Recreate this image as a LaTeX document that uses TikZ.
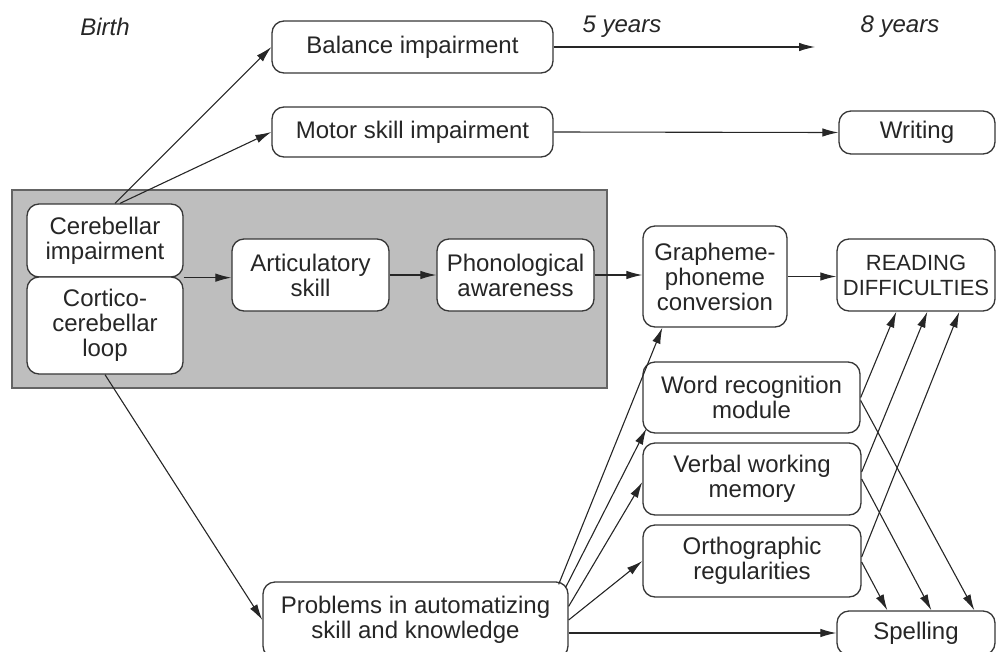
\documentclass[tikz,border=0pt]{standalone}
\usepackage{fontspec}
\setmainfont{Liberation Sans}
\usepackage{xcolor}
\usetikzlibrary{arrows.meta,calc}
\definecolor{boxline}{RGB}{55,55,55}
\definecolor{panelgray}{RGB}{190,190,190}
\definecolor{panelline}{RGB}{100,100,100}
\newcommand{\boxfont}{\fontsize{24}{25}\selectfont}
\tikzset{
	blk/.style={draw=boxline, line width=1.3pt, fill=white, rounded corners=12pt,
			align=center, inner sep=0pt, font=\boxfont, text=black!85},
	agelabel/.style={font=\fontsize{24}{25}\selectfont\itshape, text=black!85},
	link/.style={->, line width=1.1pt, draw=black!85}
}
\begin{document}
\begin{tikzpicture}[x=1pt,y=-1pt,>={Latex[length=16pt,width=8.5pt]}]
			\useasboundingbox (0,0) rectangle (996,651);

			% Time axis labels
			\node[agelabel] (birth) at (105,27) {Birth};
			\node[agelabel] (five) at (622,27) {5 years};
			\node[agelabel] (eight) at (900,27) {8 years};

			% Shaded panel
			\filldraw[fill=panelgray, draw=panelline, line width=1.1pt] (12,190) rectangle (607,388);

			% Boxes
			\node[blk, minimum width=281, minimum height=52] (balance) at (412.5,47) {Balance impairment};
			\node[blk, minimum width=281, minimum height=50] (motor) at (412.5,132) {Motor skill impairment};
			\node[blk, minimum width=156, minimum height=43] (writing) at (917,132.5) {Writing};
			\node[blk, minimum width=156, minimum height=73] (cereb) at (105,240.5) {Cerebellar\\impairment};
			\node[blk, minimum width=156, minimum height=97] (cortico) at (105,325.5) {Cortico-\\cerebellar\\loop};
			\node[blk, minimum width=157, minimum height=72] (artic) at (310.5,275) {Articulatory\\skill};
			\node[blk, minimum width=157, minimum height=72] (phono) at (515.5,275) {Phonological\\awareness};
			\node[blk, minimum width=144, minimum height=101] (graph) at (715,276.5) {Grapheme-\\phoneme\\conversion};
			\node[blk, minimum width=158, minimum height=72, font=\fontsize{22}{25}\selectfont] (reading) at (916,275) {READING\\DIFFICULTIES};
			\node[blk, minimum width=217, minimum height=71] (wordrec) at (751.5,397.5) {Word recognition\\module};
			\node[blk, minimum width=218, minimum height=72] (verbal) at (752,479) {Verbal working\\memory};
			\node[blk, minimum width=218, minimum height=72] (ortho) at (752,561) {Orthographic\\regularities};
			\node[blk, minimum width=305, minimum height=76] (problems) at (415.5,620) {Problems in automatizing\\skill and knowledge};
			\node[blk, minimum width=158, minimum height=44] (spelling) at (916,633) {Spelling};

			\coordinate (balend) at (815,47);

			% Top branch
			\draw[link] ($(cereb.north)+(10,0)$) -- (balance.west);
			\draw[link] ($(cereb.north)+(15,0)$) -- (motor.west);
			\draw[link] (balance.east) -- (balend);
			\draw[link] (motor.east) -- (writing.west);

			% Phonological route
			\draw[link] (cereb.south east) -- (cereb.south east -| artic.west);
			\draw[link] (artic.east) -- (phono.west);
			\draw[link] (phono.east) -- (phono.east -| graph.west);
			\draw[link] (graph.east) -- (graph.east -| reading.west);

			% Automatization route
			\draw[link] (cortico.south) -- (problems.west);
			\draw[link] ($(problems.north east)+(-10,3)$) -- ($(graph.south west)+(20,0)$);
			\draw[link] ($(problems.north east)+(-3,6)$) -- ($(wordrec.south west)+(4,-5)$);
			\draw[link] ($(problems.north east)+(0,25)$) -- ($(verbal.west)+(0,3)$);
			\draw[link] (problems.east) -- (ortho.west);
			\draw[link] (problems.east |- spelling.west) -- (spelling.west);

			% Into reading
			\draw[link] (wordrec.east) -- ($(reading.south west)+(60,0)$);
			\draw[link] ($(verbal.east)+(0,-7)$) -- ($(reading.south west)+(91,0)$);
			\draw[link] ($(ortho.east)+(0,-4)$) -- ($(reading.south west)+(123,0)$);

			% Into spelling
			\draw[link] ($(wordrec.east)+(0,3)$) -- ($(spelling.north west)+(138,0)$);
			\draw[link] (verbal.east) -- ($(spelling.north west)+(95,0)$);
			\draw[link] ($(ortho.east)+(0,1)$) -- ($(spelling.north west)+(51,0)$);
		\end{tikzpicture}
\end{document}
